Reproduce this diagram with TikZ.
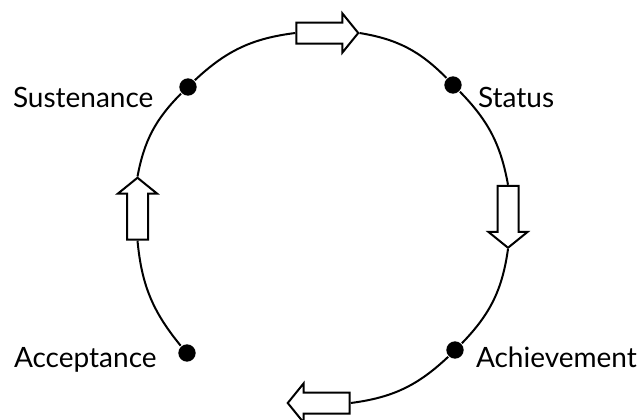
\documentclass[tikz,border=0pt]{standalone}
\usepackage{fontspec}
\setmainfont{Lato}
\usetikzlibrary{shapes.arrows}
\tikzset{
    stage dot/.style={circle,fill=black,inner sep=0pt,minimum size=13pt},  % Stage markers
    cycle arrow/.style={single arrow,draw=black,fill=white,
        inner xsep=0pt,inner ysep=7.125pt,               % Half the shaft width
        minimum height=46.5pt,                           % Tail to tip
        single arrow head extend=6.75pt,single arrow tip angle=102},
    stage label/.style={anchor=base west,inner sep=0pt,font=\fontsize{21}{25}\selectfont}
}

\begin{document}
\begin{tikzpicture}[x=0.75pt,y=0.75pt,line width=1.5pt]
  % Frame (pixel units, y upwards)
    \useasboundingbox (0,0) rectangle (644,419);

  % Stages
    \node[stage dot] (sus) at (188,332) {};
    \node[stage dot] (sta) at (453,334) {};
    \node[stage dot] (ach) at (455,69) {};
    \node[stage dot] (acc) at (187,66) {};

    \node[stage label] (sustext) at (12,312) {Sustenance};
    \node[stage label] (statext) at (477,311) {Status};
    \node[stage label] (achtext) at (475,52) {Achievement};
    \node[stage label] (acctext) at (13,52) {Acceptance};

  % Block arrows
    \node[cycle arrow] (atop) at (323,386) {};
    \node[cycle arrow,rotate=-90] (aright) at (508,206.5) {};
    \node[cycle arrow,rotate=180] (abot) at (323,16) {};
    \node[cycle arrow,rotate=90] (aleft) at (137.5,206) {};

  % The circle
    \draw (sus) to[bend left=18] (atop.tail);
    \draw (atop.tip) to[bend left=18] (sta);
    \draw (sta) to[bend left=17] (aright.tail);
    \draw (aright.tip) to[bend left=18] (ach);
    \draw (ach) to[bend left=18] (abot.tail);
    \draw (acc) to[bend left=17] (aleft.tail);
    \draw (aleft.tip) to[bend left=17] (sus);
\end{tikzpicture}
\end{document}
